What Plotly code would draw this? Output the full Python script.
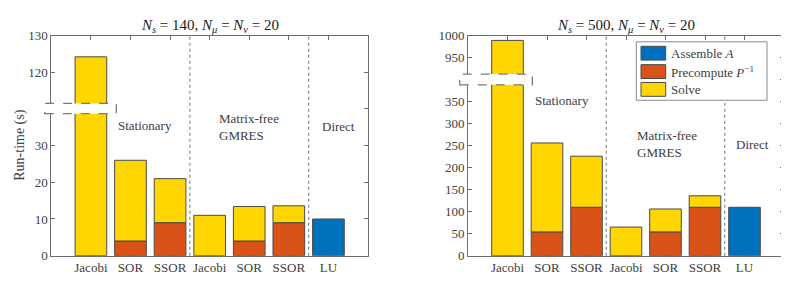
import plotly.graph_objects as go

# ---------------- data ----------------
methods = ["Jacobi", "SOR", "SSOR", "Jacobi", "SOR", "SSOR", "LU"]
series_names = ["Assemble <i>A</i>", "Precompute <i>P</i><sup>−1</sup>", "Solve"]

left_assemble = [0, 0, 0, 0, 0, 0, 10]
left_precompute = [0, 4, 9, 0, 4, 9, 0]
left_solve = [124.2, 22, 12, 11, 9.4, 4.6, 0]

right_assemble = [0, 0, 0, 0, 0, 0, 110]
right_precompute = [0, 54, 110, 0, 54, 110, 0]
right_solve = [989, 202, 116, 65, 52, 26, 0]

left_ticks = [0, 10, 20, 30, None, 120, 130]
right_ticks = [0, 50, 100, 150, 200, 250, 300, 350, None, 950, 1000]

left_break = (40, 110)     # real values 40..110 are cut out
right_break = (400, 900)   # real values 400..900 are cut out

colors = ["#0072BD", "#D95319", "#FFD600"]

FONT = "Liberation Serif"
TXT = "#404040"
W, H = 789, 286


def disp(v, brk):
    lo, hi = brk
    return v if v <= lo else lo + (v - hi)


def fnt(size, color=TXT):
    return dict(family=FONT, size=size, color=color)


fig = go.Figure()

panels = [
    dict(x="x", y="y", data=[left_assemble, left_precompute, left_solve], brk=left_break,
         ticks=left_ticks, dom=[43.3, 360.0]),
    dict(x="x2", y="y2", data=[right_assemble, right_precompute, right_solve], brk=right_break,
         ticks=right_ticks, dom=[460.0, 776.0]),
]

xs = list(range(1, len(methods) + 1))

for p in panels:
    cum = [0.0] * len(methods)
    for si, vals in enumerate(p["data"]):
        bases, heights = [], []
        for i, v in enumerate(vals):
            b = disp(cum[i], p["brk"])
            t = disp(cum[i] + v, p["brk"])
            cum[i] += v
            if v == 0:
                bases.append(None)
                heights.append(None)
            else:
                bases.append(b)
                heights.append(t - b)
        fig.add_trace(go.Bar(
            x=xs, y=heights, base=bases, xaxis=p["x"], yaxis=p["y"],
            width=0.8, marker=dict(color=colors[si], line=dict(color="#4a4a4a", width=1)),
            name=series_names[si], showlegend=False, hoverinfo="skip",
        ))

y_dom = [(H - 254) / H, (H - 21.7) / H]

for k, p in enumerate(panels):
    sfx = "" if k == 0 else "2"
    lo, hi = p["brk"]
    tv, tt = [], []
    for t in p["ticks"]:
        if t is None:
            tv.append(lo)
            tt.append("")
        else:
            tv.append(disp(t, p["brk"]))
            tt.append(str(t))
    top = disp(p["ticks"][-1], p["brk"])
    common = dict(showline=True, linecolor="#6e6e6e", linewidth=1, mirror="allticks",
                  ticks="inside", ticklen=4, tickcolor="#6e6e6e",
                  tickfont=fnt(13), showgrid=False, zeroline=False)
    fig.layout["xaxis" + sfx] = dict(common, domain=[p["dom"][0] / W, p["dom"][1] / W],
                                     range=[0, 8], tickvals=xs, ticktext=methods, anchor="y" + sfx,
                                     layer="below traces")
    fig.layout["yaxis" + sfx] = dict(common, domain=y_dom, range=[0, top],
                                     tickvals=tv, ticktext=tt, anchor="x" + sfx)

fig.update_layout(width=W, height=H, margin=dict(l=0, r=0, t=0, b=0),
                  paper_bgcolor="white", plot_bgcolor="white", barmode="overlay", showlegend=False)

# group dividers
for k, p in enumerate(panels):
    for xv in (3.5, 6.5):
        fig.add_shape(type="line", xref=p["x"], yref=p["y"] + " domain", x0=xv, x1=xv, y0=0, y1=1,
                      line=dict(color="#8a8a8a", width=1.2, dash="dot"), layer="below")

# group labels
left_lbl = [(2.37, 35.5, "Stationary"), (5.0, 35.1, "Matrix-free<br>GMRES"), (7.25, 35.1, "Direct")]
right_lbl = [(2.37, 353, "Stationary"), (5.05, 253, "Matrix-free<br>GMRES"), (7.2, 252, "Direct")]
for (xr, yr), lbls in ((("x", "y"), left_lbl), (("x2", "y2"), right_lbl)):
    for xv, yv, txt in lbls:
        fig.add_annotation(x=xv, y=yv, xref=xr, yref=yr, text=txt, showarrow=False,
                           font=fnt(13), align="left")

# break markers (white box with dashed outline)
breaks = [("y", 38.7, 41.5, 36.7, 108.3), ("y2", 388, 412.5, 451.7, 524.3)]
for yr, y0, y1, px0, px1 in breaks:
    fig.add_shape(type="rect", xref="paper", yref=yr, x0=px0 / W, x1=px1 / W, y0=y0, y1=y1,
                  fillcolor="white", line=dict(color="#7a7a7a", width=1.3, dash="dash"), layer="above")

# titles
titles = ["<i>N</i><sub><i>s</i></sub> = 140, <i>N</i><sub><i>μ</i></sub> = <i>N</i><sub><i>ν</i></sub> = 20",
          "<i>N</i><sub><i>s</i></sub> = 500, <i>N</i><sub><i>μ</i></sub> = <i>N</i><sub><i>ν</i></sub> = 20"]
for k, p in enumerate(panels):
    cx = (p["dom"][0] + p["dom"][1]) / 2 / W
    fig.add_annotation(x=cx, y=(H - 12) / H, xref="paper", yref="paper", text=titles[k],
                       showarrow=False, font=fnt(15, "#222"), xanchor="center", yanchor="middle")

# y axis title
fig.add_annotation(x=12 / W, y=(H - 138) / H, xref="paper", yref="paper", text="Run-time (s)",
                   textangle=-90, showarrow=False, font=fnt(14), xanchor="center", yanchor="middle")

# legend (manual)
fig.add_shape(type="rect", xref="paper", yref="paper", x0=628.3 / W, x1=759 / W,
              y0=(H - 90) / H, y1=(H - 28.3) / H, fillcolor="white",
              line=dict(color="#8a8a8a", width=1), layer="above")
row_c = [40.3, 59.7, 78.5]
for i, name in enumerate(series_names):
    fig.add_shape(type="rect", xref="paper", yref="paper", x0=633 / W, x1=657.7 / W,
                  y0=(H - row_c[i] - 7.3) / H, y1=(H - row_c[i] + 7.3) / H,
                  fillcolor=colors[i], line=dict(color="#4a4a4a", width=1), layer="above")
    fig.add_annotation(x=661 / W, y=(H - row_c[i]) / H, xref="paper", yref="paper", text=name,
                       showarrow=False, xanchor="left", yanchor="middle", font=fnt(13))

fig.write_html("out.html")
